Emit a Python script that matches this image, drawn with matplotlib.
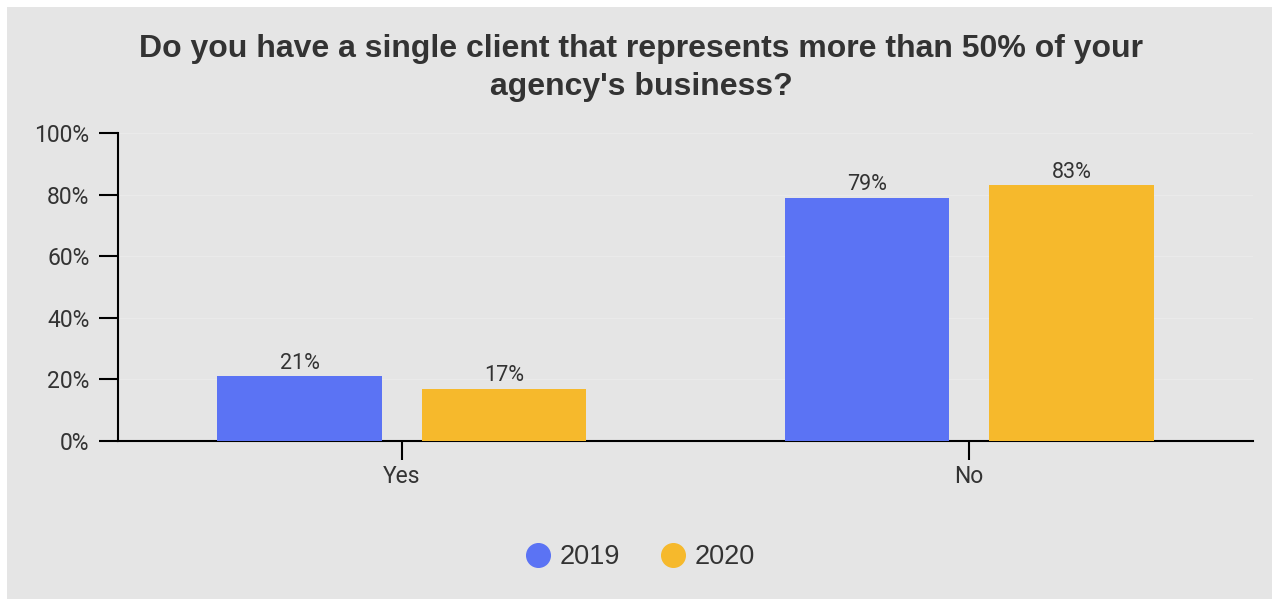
import numpy as np
import matplotlib.pyplot as plt
from matplotlib.lines import Line2D

categories = ["Yes", "No"]
years = ["2019", "2020"]
values_2019 = [21, 79]
values_2020 = [17, 83]
yticks = [0, 20, 40, 60, 80, 100]

colors = ["#5b73f4", "#f6b92c"]
bg = "#e5e5e5"
text_col = "#333333"

fig = plt.figure(figsize=(12.72, 5.99), dpi=100, facecolor="white")
# grey panel with a thin white margin on the top and left
panel = fig.add_axes([7 / 1272, 0, 1 - 7 / 1272, 1 - 7 / 599])
panel.set_facecolor(bg)
panel.set_xticks([])
panel.set_yticks([])
for s in panel.spines.values():
    s.set_visible(False)
panel.set_zorder(0)

ax = fig.add_axes([118 / 1272, 1 - 441 / 599, 1135 / 1272, 308 / 599])
ax.set_facecolor("none")
ax.set_zorder(1)

x = np.arange(len(categories))
w = 0.29
off = 0.18
b1 = ax.bar(x - off, values_2019, w, color=colors[0], zorder=3)
b2 = ax.bar(x + off, values_2020, w, color=colors[1], zorder=3)

for bars, vals in [(b1, values_2019), (b2, values_2020)]:
    for rect, v in zip(bars, vals):
        ax.text(rect.get_x() + rect.get_width() / 2, v + 0.8, f"{v}%",
                ha="center", va="bottom", fontsize=15.5, color=text_col,
                family="Roboto")

ax.set_xlim(-0.5, 1.5)
ax.set_ylim(0, 100)
ax.set_yticks(yticks)
ax.set_yticklabels([f"{t}%" for t in yticks])
ax.set_xticks(x)
ax.set_xticklabels(categories)
ax.grid(axis="y", color="#eaeaea", linewidth=1, zorder=0)
ax.tick_params(axis="both", direction="out", length=13.5, width=1.5, color="black",
               labelsize=16.5, labelcolor=text_col)
ax.tick_params(axis="y", pad=7)
ax.tick_params(axis="x", pad=3.5)
for lab in ax.get_xticklabels() + ax.get_yticklabels():
    lab.set_family("Roboto")
ax.spines["top"].set_visible(False)
ax.spines["right"].set_visible(False)
ax.spines["left"].set_linewidth(1.5)
ax.spines["bottom"].set_linewidth(1.5)

fig.text(0.504, 1 - 68 / 599,
         "Do you have a single client that represents more than 50% of your\nagency's business?",
         ha="center", va="center", fontsize=23, fontweight="bold",
         color=text_col, family="Liberation Sans", linespacing=1.38)

handles = [Line2D([], [], marker="o", linestyle="none", markersize=17,
                  markerfacecolor=c, markeredgecolor=c) for c in colors]
fig.legend(handles, years, loc="center", bbox_to_anchor=(0.4995, 1 - 557 / 599),
           ncol=2, frameon=False, handletextpad=0.0, handlelength=1.6,
           columnspacing=1.15, prop={"family": "Liberation Sans", "size": 19.5},
           labelcolor=text_col)

fig.savefig("out.png", dpi=100, facecolor="white")
